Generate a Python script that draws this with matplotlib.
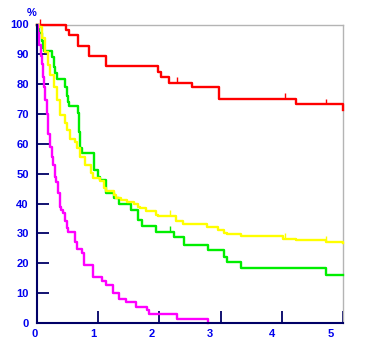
import matplotlib
matplotlib.use("Agg")
import matplotlib.pyplot as plt
from matplotlib.transforms import ScaledTranslation

# survival curves (time in years, survival in %)
red_t = [0, 0.47, 0.53, 0.67, 0.85, 1.13, 1.98, 2.03, 2.16, 2.54, 2.97, 4.24, 5.0]
red_s = [100, 98.3, 96.5, 92.7, 89.4, 86.0, 84.0, 82.4, 80.4, 79.1, 75.2, 73.2, 71.2]
red_cens_t = [0.05, 2.28, 4.05, 4.73]
red_cens_s = [100, 80.4, 75.2, 73.2]

green_t = [0, 0.04, 0.077, 0.10, 0.11, 0.24, 0.28, 0.29, 0.32, 0.46, 0.485, 0.51, 0.53,
           0.665, 0.69, 0.70, 0.73, 0.93, 1.00, 1.03, 1.13, 1.26, 1.34, 1.54, 1.65,
           1.71, 1.94, 2.24, 2.41, 2.80, 3.06, 3.10, 3.33, 4.72, 5.0]
green_s = [100, 97.0, 94.6, 92.2, 91.1, 89.1, 85.7, 83.7, 81.8, 79.0, 76.0, 74.0, 72.7,
           70.3, 64.0, 58.5, 57.1, 51.2, 48.9, 48.0, 43.7, 41.9, 40.0, 37.8, 34.4,
           32.4, 30.5, 28.7, 26.1, 24.4, 22.2, 20.3, 18.3, 16.1, 16.1]
green_cens_t = [2.18]
green_cens_s = [30.5]

yellow_t = [0, 0.04, 0.077, 0.13, 0.175, 0.21, 0.27, 0.32, 0.38, 0.45, 0.485, 0.54, 0.62,
            0.66, 0.70, 0.78, 0.89, 0.92, 1.03, 1.10, 1.13, 1.25, 1.29, 1.38, 1.47,
            1.59, 1.65, 1.68, 1.78, 1.94, 1.98, 2.27, 2.39, 2.55, 2.78, 2.96, 3.06,
            3.11, 3.33, 4.02, 4.24, 4.72, 5.0]
yellow_s = [100, 99.0, 95.6, 90.7, 86.3, 83.0, 79.0, 74.6, 69.6, 66.9, 64.5, 61.8, 60.6,
            58.5, 55.6, 52.8, 50.4, 48.6, 47.5, 45.2, 44.1, 43.0, 42.0, 41.1, 40.6,
            39.7, 38.9, 38.4, 37.5, 36.3, 35.8, 34.2, 33.3, 33.0, 32.2, 31.3, 30.3,
            29.8, 29.1, 28.3, 27.8, 27.2, 26.7]
yellow_cens_t = [2.17, 4.06, 4.72]
yellow_cens_s = [35.8, 28.3, 27.2]

magenta_t = [0, 0.02, 0.04, 0.06, 0.077, 0.093, 0.12, 0.13, 0.16, 0.175, 0.185, 0.21,
             0.24, 0.255, 0.29, 0.31, 0.35, 0.38, 0.40, 0.43, 0.45, 0.485, 0.51, 0.62,
             0.65, 0.73, 0.77, 0.915, 1.06, 1.13, 1.24, 1.34, 1.45, 1.62, 1.79, 1.83,
             2.29, 2.80]
magenta_s = [100, 97.3, 93.0, 89.6, 86.8, 82.4, 79.0, 74.6, 70.1, 66.8, 63.4, 59.0,
             55.7, 52.8, 48.9, 47.3, 43.4, 39.0, 37.8, 36.9, 34.2, 31.7, 30.5, 27.2,
             24.8, 23.4, 19.4, 15.5, 14.0, 12.7, 10.2, 8.2, 6.9, 5.5, 4.3, 3.0,
             1.3, 0]

x_ticks = [0, 1, 2, 3, 4, 5]
y_ticks = list(range(0, 101, 10))

navy = "#000066"
label_blue = "#0000ee"

fig = plt.figure(figsize=(3.65, 3.53), dpi=100)
ax = fig.add_axes([37 / 365, 1 - 323 / 353, 306 / 365, 298.5 / 353])

curves = [
    (red_t, red_s, red_cens_t, red_cens_s, "#ff0000"),
    (green_t, green_s, green_cens_t, green_cens_s, "#00ee00"),
    (yellow_t, yellow_s, yellow_cens_t, yellow_cens_s, "#ffff00"),
    (magenta_t, magenta_s, [], [], "#ff00ff"),
]
for t, s, ct, cs, col in curves:
    ax.plot(t, s, drawstyle="steps-post", color=col, lw=1.7, clip_on=False, zorder=3)
    if ct:
        ax.vlines(ct, cs, [v + 2.0 for v in cs], color=col, lw=1.0, clip_on=False, zorder=3)

ax.set_xlim(0, 5)
ax.set_ylim(0, 100)

for side in ["top", "right"]:
    ax.spines[side].set_color("#b4b4b4")
    ax.spines[side].set_linewidth(1.0)
for side in ["left", "bottom"]:
    ax.spines[side].set_color(navy)
    ax.spines[side].set_linewidth(1.5)
    ax.spines[side].set_zorder(4)

ax.set_xticks(x_ticks)
ax.set_yticks(y_ticks)
ax.tick_params(direction="in", length=8.5, width=1.3, color=navy,
               labelcolor=label_blue, labelsize=8)
ax.tick_params(axis="x", pad=4)
ax.tick_params(axis="y", pad=6)
for lab in ax.get_xticklabels() + ax.get_yticklabels():
    lab.set_fontweight("bold")
    lab.set_fontfamily("Liberation Sans")

# tick labels sit a bit left of the tick marks in the original
shifts = [-2, -5, -8, -11, -10, -12]
for lab, dx in zip(ax.get_xticklabels(), shifts):
    lab.set_transform(lab.get_transform() + ScaledTranslation(dx / 100, 0, fig.dpi_scale_trans))

ax.text(-0.016, 1.04, "%", transform=ax.transAxes, ha="center", va="center",
        color=label_blue, fontsize=8, fontweight="bold", family="Liberation Sans")

fig.savefig("out.png", dpi=100)
